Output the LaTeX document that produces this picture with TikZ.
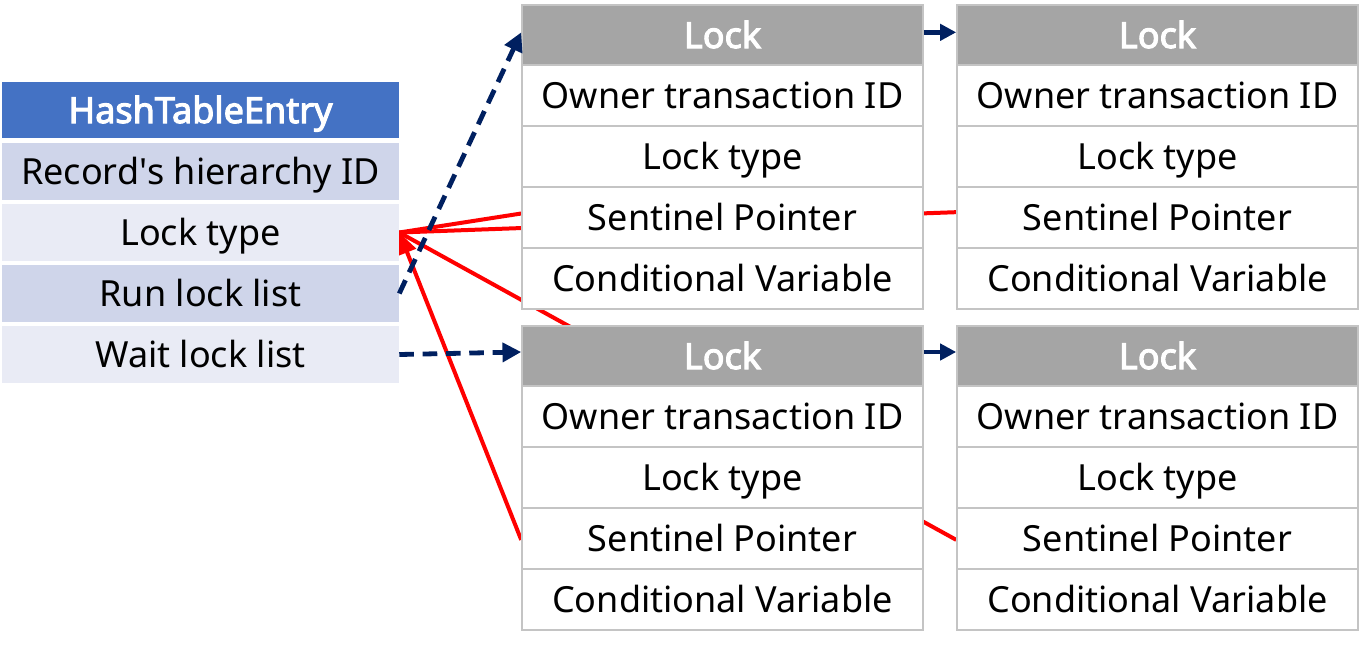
\documentclass[tikz,border=0pt]{standalone}
\usepackage{fontspec}
\setmainfont{Noto Sans}[AutoFakeBold=3]
\usepackage{tikz}
\usetikzlibrary{arrows.meta, backgrounds}

\definecolor{hashblue}{HTML}{4472C4}
\definecolor{rowdark}{HTML}{CFD5EA}
\definecolor{rowlight}{HTML}{E9EBF5}
\definecolor{lockgray}{HTML}{A5A5A5}
\definecolor{lockline}{HTML}{C4C4C4}
\definecolor{navy}{HTML}{002060}

\tikzset{
  cell/.style={inner sep=0pt, text height=19.5pt, text depth=0pt, font=\fontsize{27}{30}\selectfont},
  hashhead/.style={cell, fill=hashblue, text=white, font=\fontsize{27}{30}\selectfont\bfseries,
    minimum width=297.75pt, minimum height=42pt},
  hashrow/.style={cell, fill=#1, minimum width=297.75pt, minimum height=42.75pt},
  lockhead/.style={cell, fill=lockgray, draw=lockline, line width=1.2pt, text=white,
    font=\fontsize{27}{30}\selectfont\bfseries, minimum width=300.75pt, minimum height=45pt},
  lockrow/.style={cell, fill=white, draw=lockline, line width=1.2pt,
    minimum width=300.75pt, minimum height=45.75pt},
  sentinel/.style={red, line width=3pt},
  listptr/.style={navy, line width=3.6pt, dash pattern=on 11pt off 6.5pt,
    -{Triangle[length=14pt,width=14pt]}},
  nextptr/.style={navy, line width=3.6pt, -{Triangle[length=12pt,width=12pt]}}
}

% lock table: name, center x, top y (pixels)
\newcommand\locktable[3]{
  \node[lockhead] (#1) at (#2, #3+30) {Lock};
  \foreach \txt [count=\i] in {Owner transaction ID, Lock type, Sentinel Pointer, Conditional Variable}
    \node[lockrow] (#1-\i) at (#2, #3+60+30.5+61*\i-61) {\txt};
}

\begin{document}
\begin{tikzpicture}[x=0.75pt, y=-0.75pt]
  \useasboundingbox (0,0) rectangle (1360,644);

  % hash table entry
  \node[hashhead] (hash) at (200.5,110) {HashTableEntry};
  \node[hashrow=rowdark]  (hash-1) at (200.5,171.5) {Record\textquotesingle s hierarchy ID};
  \node[hashrow=rowlight] (hash-2) at (200.5,232.5) {Lock type};
  \node[hashrow=rowdark]  (hash-3) at (200.5,293.5) {Run lock list};
  \node[hashrow=rowlight] (hash-4) at (200.5,354.5) {Wait lock list};

  % lock lists
  \locktable{tl}{722.5}{5}
  \locktable{tr}{1157.5}{5}
  \locktable{bl}{722.5}{326}
  \locktable{br}{1157.5}{326}

  % sentinel pointers back to the entry
  \begin{scope}[on background layer]
    \draw[sentinel] ([yshift=3pt]tl-3.west) -- (hash-2.east);
    \draw[sentinel] ([yshift=4pt]tr-3.west) -- (hash-2.east);
    \draw[sentinel] ([yshift=-1pt]br-3.west) -- (hash-2.east);
    \draw[sentinel, -{Triangle[length=16pt,width=14pt]}] ([yshift=-1pt]bl-3.west) -- (hash-2.east);
  \end{scope}

  % list pointers
  \draw[listptr] (hash-3.east) -- ([yshift=2pt]tl.west);
  \draw[listptr] (hash-4.east) -- ([yshift=3pt]bl.west);
  \draw[nextptr] ([yshift=2pt]tl.east) -- ([yshift=2pt]tr.west);
  \draw[nextptr] ([yshift=3pt]bl.east) -- ([yshift=3pt]br.west);
\end{tikzpicture}
\end{document}
